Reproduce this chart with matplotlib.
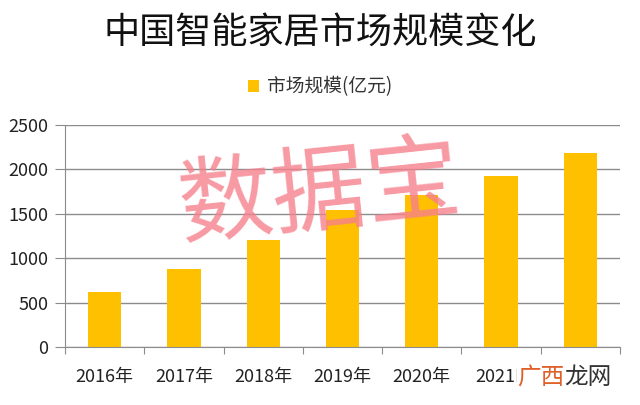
import matplotlib
matplotlib.use("Agg")
import matplotlib.pyplot as plt
import numpy as np

plt.rcParams['font.family'] = ['Noto Sans CJK SC', 'DejaVu Sans']

years = ['2016年', '2017年', '2018年', '2019年', '2020年', '2021E', '2022E']
market = [620, 880, 1210, 1540, 1710, 1930, 2180]
yticks = [0, 500, 1000, 1500, 2000, 2500]

bar_color = '#FFC000'
grid_color = '#8C8C8C'

fig = plt.figure(figsize=(6.4, 4.05), dpi=100)
ax = fig.add_axes([65 / 640, 1 - 347 / 405, 555 / 640, 222 / 405])

x = np.arange(len(years))
bars = ax.bar(x, market, width=0.42, color=bar_color, zorder=2)

ax.set_xlim(-0.5, len(years) - 0.5)
ax.set_ylim(0, 2500)
ax.set_yticks(yticks)
ax.set_yticklabels([str(v) for v in yticks], fontsize=13, color='#222222')
ax.yaxis.grid(True, color=grid_color, linewidth=1, zorder=0)
ax.tick_params(axis='y', length=7, color=grid_color, pad=5)

# category labels centred, ticks on the boundaries
ax.set_xticks(np.arange(len(years) + 1) - 0.5)
ax.set_xticklabels([])
ax.tick_params(axis='x', length=5, color=grid_color)
for i, lab in enumerate(years):
    ax.text(i, -340, lab, ha='center', va='center', fontsize=13, color='#222222')

for s in ['top', 'right']:
    ax.spines[s].set_visible(False)
for s in ['left', 'bottom']:
    ax.spines[s].set_color(grid_color)

fig.text(0.5, 1 - 33 / 405, '中国智能家居市场规模变化', ha='center', va='center',
         fontsize=26, color='#111111')

fig.legend([bars], ['市场规模(亿元)'], loc='center', bbox_to_anchor=(0.5, 1 - 87 / 405),
           frameon=False, fontsize=13.5, handlelength=0.6, handleheight=0.6,
           handletextpad=0.4, labelcolor='#333333')

# watermarks
fig.text(0.5, 1 - 195 / 405, '数据宝', ha='center', va='center', fontsize=68,
         color='#F5808C', alpha=0.8, rotation=6, zorder=10)
wx = 517 / 640
wy = 1 - 378 / 405
t1 = fig.text(wx, wy, '广西', ha='left', va='center', fontsize=17, color='#E0602A',
              zorder=11, bbox=dict(facecolor='white', edgecolor='none', pad=0))
fig.canvas.draw()
bb = t1.get_window_extent()
fig.text(bb.x1 / 640, wy, '龙网', ha='left', va='center', fontsize=17,
         color='#333333', zorder=11,
         bbox=dict(facecolor='white', edgecolor='none', pad=0))

fig.savefig('out.png', dpi=100)
